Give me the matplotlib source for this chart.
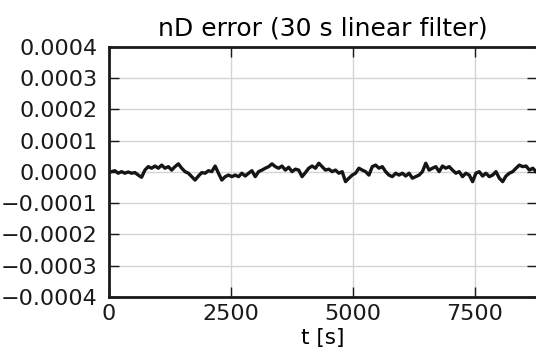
import numpy as np
import matplotlib
matplotlib.use('Agg')
import matplotlib.pyplot as plt

plt.rcParams['font.family'] = ['DejaVu Sans']

# nD error, in units of 1e-5
err_1e5 = [
    0.1, 0.4, -0.4, 0.1, -0.4, 0.0, -0.4, -0.2, -1.0, -1.7,
    0.6, 1.7, 1.2, 1.9, 1.2, 2.2, 1.2, 1.7, 0.6, 1.7,
    2.6, 1.2, 0.1, -0.4, -1.5, -2.6, -1.3, -0.2, -0.4, 0.4,
    0.1, 1.9, -0.4, -2.6, -1.5, -1.0, -1.5, -1.0, -1.5, -0.4,
    -1.3, -0.4, 0.4, -1.5, 0.1, 0.6, 1.2, 1.7, 2.6, 1.7,
    1.2, 1.9, 0.6, 1.5, 0.1, 0.9, 0.6, -1.5, -0.2,
    1.2, 1.9, 1.2, 2.8, 1.7, 0.6, 0.9, 0.1, 0.6, -0.4,
    0.1, -3.1, -2.0, -1.0, -0.4, 1.2, 0.6, 0.1, -1.0, 1.7,
    2.2, 1.2, 1.7, 0.1, -1.0, -1.5, -0.4, -1.0, -0.4, -1.3,
    -0.4, -2.0, -1.5, -1.0, 0.1, 2.8, 0.6, 1.2, 1.7, 0.1,
    1.9, 1.2, 1.7, 0.6, -0.4, 0.1, -1.5, -0.4, -1.0, -3.1,
    -0.4, 0.1, -1.3, -0.4, -1.5, -1.0, 0.1, -2.0, -3.1, -1.3,
    -0.4, 0.1, 1.2, 2.2, 1.7, 1.9, 0.6, 1.2, 0.1,
]
# sample times [s], evenly spaced over the visible span
t_first, t_last = 55, 8750
t = np.linspace(t_first, t_last, len(err_1e5))
err = np.array(err_1e5) * 1e-5

x_ticks = [0, 2500, 5000, 7500]
y_ticks = [-0.0004, -0.0003, -0.0002, -0.0001, 0.0, 0.0001, 0.0002, 0.0003, 0.0004]

fig = plt.figure(figsize=(5.36, 3.59), dpi=100)
ax = fig.add_axes([0.203, 0.173, 0.799, 0.696])

ax.plot(t, err, color='#151515', linewidth=2.4)

ax.set_xlim(0, 8770)
ax.set_ylim(-0.0004, 0.0004)
ax.set_xticks(x_ticks)
ax.set_yticks(y_ticks)
ax.set_yticklabels(['%.4f' % v if v >= 0 else '\u2212%.4f' % -v for v in y_ticks])

ax.grid(True, color='#d4d4d4', linewidth=1.0)
ax.set_axisbelow(True)
for s in ax.spines.values():
    s.set_linewidth(2.0)
    s.set_color('#1a1a1a')

ax.tick_params(direction='in', top=True, right=True, length=7, width=1,
               labelsize=16, colors='#1a1a1a')
ax.tick_params(axis='y', pad=8)
ax.tick_params(axis='x', pad=5)

ax.set_xlabel('t [s]', fontsize=15.5, labelpad=3)
ax.set_title('nD error (30 s linear filter)', fontsize=18, pad=8)

fig.savefig('out.png', dpi=100)
